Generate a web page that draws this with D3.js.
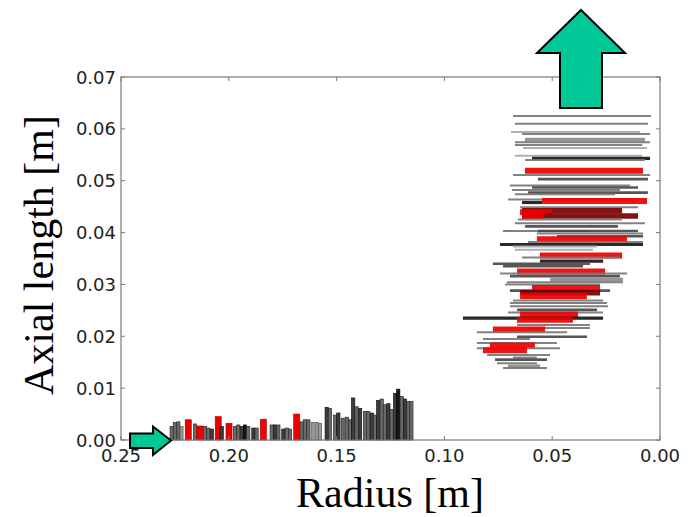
<!DOCTYPE html>
<html>
<head>
<meta charset="utf-8">
<script src="https://cdn.jsdelivr.net/npm/d3@7/dist/d3.min.js"></script>
<style>
  html, body { margin: 0; padding: 0; background: #fff; }
  svg { display: block; }
</style>
</head>
<body>
<svg id="chart" width="698" height="517"></svg>
<script>
// Axis ticks
const xTicks = [0.25, 0.20, 0.15, 0.10, 0.05, 0.00];
const yTicks = [0.00, 0.01, 0.02, 0.03, 0.04, 0.05, 0.06, 0.07];

// Radial bars near the outer radius: position [m], height [m], kind
const barRadius = [0.2265, 0.2250, 0.2234, 0.2219, 0.2188, 0.2157, 0.2134, 0.2110, 0.2095, 0.2079,
  0.2049, 0.2033, 0.1999, 0.1971, 0.1956, 0.1940, 0.1925, 0.1910, 0.1886, 0.1871,
  0.1840, 0.1801, 0.1786, 0.1770, 0.1747, 0.1731, 0.1716, 0.1685, 0.1662, 0.1647,
  0.1631, 0.1611, 0.1592, 0.1577, 0.1546, 0.1531, 0.1507, 0.1492, 0.1472, 0.1453,
  0.1438, 0.1423, 0.1407, 0.1391, 0.1368, 0.1353, 0.1337, 0.1322, 0.1307, 0.1291,
  0.1276, 0.1260, 0.1245, 0.1229, 0.1214, 0.1198, 0.1183, 0.1167, 0.1153];
const barHeight = [0.0026, 0.0034, 0.0035, 0.0026, 0.0039, 0.0031, 0.0027, 0.0026, 0.0023, 0.0021,
  0.0045, 0.0026, 0.0032, 0.0026, 0.0029, 0.0026, 0.0029, 0.0026, 0.0023, 0.0023,
  0.0040, 0.0029, 0.0029, 0.0029, 0.0021, 0.0023, 0.0021, 0.0050, 0.0035, 0.0039,
  0.0039, 0.0034, 0.0034, 0.0032, 0.0063, 0.0061, 0.0048, 0.0052, 0.0042, 0.0044,
  0.0039, 0.0081, 0.0064, 0.0061, 0.0055, 0.0055, 0.0052, 0.0048, 0.0076, 0.0079,
  0.0068, 0.0070, 0.0059, 0.0090, 0.0098, 0.0084, 0.0079, 0.0074, 0.0074];
const barKind = ["g", "g", "g", "lg", "r", "g", "r", "g", "g", "dg",
  "r", "dg", "r", "g", "g", "dg", "k", "g", "dg", "g",
  "r", "g", "dg", "g", "dg", "g", "g", "r", "g", "g",
  "g", "lg", "lg", "lg", "dg", "g", "g", "dg", "g", "g",
  "g", "dg", "g", "dg", "g", "g", "dg", "g", "dg", "g",
  "g", "dg", "g", "dg", "k", "g", "dg", "g", "g"];

// Axial segments near the inner radius: axial position [m], outer and inner radius [m], kind
const segLevel = [0.0625, 0.0610, 0.0594, 0.0590, 0.0579, 0.0574, 0.0569, 0.0563, 0.0548, 0.0543,
  0.0540, 0.0519, 0.0511, 0.0503, 0.0491, 0.0487, 0.0482, 0.0477, 0.0474, 0.0464,
  0.0461, 0.0458, 0.0449, 0.0442, 0.0439, 0.0432, 0.0432, 0.0425, 0.0418, 0.0412,
  0.0403, 0.0403, 0.0398, 0.0393, 0.0387, 0.0382, 0.0377, 0.0373, 0.0367, 0.0356,
  0.0352, 0.0345, 0.0340, 0.0335, 0.0325, 0.0321, 0.0316, 0.0309, 0.0304, 0.0300,
  0.0293, 0.0288, 0.0284, 0.0277, 0.0269, 0.0264, 0.0258, 0.0251, 0.0246, 0.0242,
  0.0235, 0.0232, 0.0222, 0.0216, 0.0213, 0.0208, 0.0199, 0.0195, 0.0187, 0.0182,
  0.0177, 0.0173, 0.0164, 0.0159, 0.0155, 0.0148, 0.0142, 0.0139];
const segOuter = [0.0682, 0.0673, 0.0691, 0.0640, 0.0626, 0.0673, 0.0673, 0.0635, 0.0673, 0.0594,
  0.0626, 0.0626, 0.0682, 0.0566, 0.0696, 0.0594, 0.0686, 0.0612, 0.0673, 0.0705,
  0.0547, 0.0640, 0.0649, 0.0640, 0.0649, 0.0640, 0.0640, 0.0659, 0.0673, 0.0626,
  0.0728, 0.0566, 0.0571, 0.0478, 0.0571, 0.0612, 0.0742, 0.0682, 0.0673, 0.0557,
  0.0640, 0.0557, 0.0775, 0.0728, 0.0663, 0.0742, 0.0696, 0.0510, 0.0710, 0.0719,
  0.0594, 0.0696, 0.0649, 0.0649, 0.0682, 0.0696, 0.0696, 0.0663, 0.0705, 0.0649,
  0.0914, 0.0663, 0.0663, 0.0617, 0.0775, 0.0849, 0.0663, 0.0821, 0.0849, 0.0789,
  0.0849, 0.0821, 0.0802, 0.0682, 0.0765, 0.0756, 0.0705, 0.0728];
const segInner = [0.0042, 0.0056, 0.0093, 0.0046, 0.0070, 0.0046, 0.0083, 0.0060, 0.0083, 0.0046,
  0.0070, 0.0079, 0.0046, 0.0056, 0.0139, 0.0102, 0.0186, 0.0056, 0.0209, 0.0102,
  0.0060, 0.0547, 0.0102, 0.0176, 0.0500, 0.0102, 0.0540, 0.0176, 0.0070, 0.0195,
  0.0325, 0.0102, 0.0079, 0.0079, 0.0153, 0.0079, 0.0079, 0.0292, 0.0311, 0.0176,
  0.0186, 0.0264, 0.0325, 0.0357, 0.0255, 0.0153, 0.0186, 0.0172, 0.0172, 0.0278,
  0.0278, 0.0232, 0.0278, 0.0339, 0.0264, 0.0246, 0.0241, 0.0292, 0.0264, 0.0380,
  0.0264, 0.0404, 0.0325, 0.0325, 0.0533, 0.0431, 0.0339, 0.0603, 0.0478, 0.0580,
  0.0464, 0.0617, 0.0510, 0.0571, 0.0524, 0.0571, 0.0557, 0.0524];
const segKind = ["g", "g", "lg", "g", "gt", "g", "g", "lg", "lg", "k",
  "g", "r", "g", "dg", "g", "dg", "g", "dg", "g", "g",
  "r", "k", "g", "dr", "r", "dr", "r", "g", "g", "dg",
  "g", "dg", "g", "dg", "r", "g", "k", "lg", "lg", "r",
  "g", "k", "dg", "dg", "r", "g", "dg", "gt", "g", "g",
  "r", "dg", "dr", "r", "g", "g", "g", "dg", "g", "r",
  "k", "r", "g", "g", "r", "g", "dg", "g", "g", "r",
  "g", "r", "g", "g", "dg", "g", "gt", "g"];

// Colour and stroke for each kind
const kindColor = { lg: "#a9a9a9", g: "#777777", gt: "#8c8c8c", dg: "#474747", k: "#161616", r: "#ee0000", dr: "#7a0000" };
const barFill = { lg: "#9a9a9a", g: "#6a6a6a", dg: "#3c3c3c", k: "#141414", r: "#ee0000" };
const barEdge = { lg: "#555", g: "#2a2a2a", dg: "#111", k: "#000", r: "#b00000" };
const segWidth = { lg: 2, g: 2, gt: 4, dg: 2.6, k: 3.2, r: 6, dr: 5.5 };
const barWidth = { lg: 3, g: 3.2, dg: 3.2, k: 3.2, r: 6 };

const svg = d3.select("#chart");
const margin = { left: 121, right: 38, top: 77, bottom: 77 };
const W = 698, H = 517;

const x = d3.scaleLinear().domain([0.25, 0]).range([margin.left, W - margin.right]);
const y = d3.scaleLinear().domain([0, 0.07]).range([H - margin.bottom, margin.top]);

// Slight softening of the dense marks
const defs = svg.append("defs");
defs.append("filter").attr("id", "soft")
  .append("feGaussianBlur").attr("stdDeviation", 0.45);

const plot = svg.append("g").attr("filter", "url(#soft)");

// Axial segments
plot.selectAll("line.seg")
  .data(segLevel.map((v, i) => ({ v, r0: segOuter[i], r1: segInner[i], k: segKind[i] })))
  .join("line")
  .attr("class", "seg")
  .attr("x1", d => x(d.r0))
  .attr("x2", d => x(d.r1))
  .attr("y1", d => y(d.v))
  .attr("y2", d => y(d.v))
  .attr("stroke", d => kindColor[d.k])
  .attr("stroke-width", d => segWidth[d.k])
  .attr("stroke-opacity", 0.92);

// Radial bars
plot.selectAll("rect.bar")
  .data(barRadius.map((r, i) => ({ r, h: barHeight[i], k: barKind[i] })))
  .join("rect")
  .attr("class", "bar")
  .attr("x", d => x(d.r) - barWidth[d.k] / 2)
  .attr("width", d => barWidth[d.k])
  .attr("y", d => y(d.h))
  .attr("height", d => y(0) - y(d.h))
  .attr("fill", d => barFill[d.k])
  .attr("stroke", d => barEdge[d.k])
  .attr("stroke-width", 0.7);

// Frame
const axisColor = "#7a7a7a";
svg.append("rect")
  .attr("x", x(0.25)).attr("y", y(0.07))
  .attr("width", x(0) - x(0.25)).attr("height", y(0) - y(0.07))
  .attr("fill", "none").attr("stroke", axisColor).attr("stroke-width", 1.2);

// Inward ticks on all four sides
const tl = 4;
const tg = svg.append("g").attr("stroke", axisColor).attr("stroke-width", 1);
xTicks.forEach(t => {
  tg.append("line").attr("x1", x(t)).attr("x2", x(t)).attr("y1", y(0)).attr("y2", y(0) - tl);
  tg.append("line").attr("x1", x(t)).attr("x2", x(t)).attr("y1", y(0.07)).attr("y2", y(0.07) + tl);
});
yTicks.forEach(t => {
  tg.append("line").attr("x1", x(0.25)).attr("x2", x(0.25) + tl).attr("y1", y(t)).attr("y2", y(t));
  tg.append("line").attr("x1", x(0)).attr("x2", x(0) - tl).attr("y1", y(t)).attr("y2", y(t));
});

// Tick labels
const fmt = d3.format(".2f");
const tickFont = "'DejaVu Sans', sans-serif";
svg.append("g").selectAll("text").data(xTicks).join("text")
  .attr("x", d => x(d)).attr("y", y(0) + 22)
  .attr("text-anchor", "middle")
  .attr("font-family", tickFont).attr("font-size", 18).attr("fill", "#222")
  .text(fmt);
svg.append("g").selectAll("text").data(yTicks).join("text")
  .attr("x", x(0.25) - 5).attr("y", d => y(d) + 6.5)
  .attr("text-anchor", "end")
  .attr("font-family", tickFont).attr("font-size", 18).attr("fill", "#222")
  .text(fmt);

// Axis titles
const titleFont = "'Liberation Serif', 'Times New Roman', serif";
svg.append("text")
  .attr("x", 390).attr("y", 507)
  .attr("text-anchor", "middle")
  .attr("font-family", titleFont).attr("font-size", 42).attr("fill", "#000")
  .text("Radius [m]");
svg.append("text")
  .attr("transform", "translate(53,255) rotate(-90)")
  .attr("text-anchor", "middle")
  .attr("font-family", titleFont).attr("font-size", 42).attr("fill", "#000")
  .text("Axial length [m]");

// Flow direction arrows
const arrowFill = "#00c896";
const line = d3.line();
svg.append("path")
  .attr("d", line([[581, 10], [625, 53], [602, 53], [602, 108], [560, 108], [560, 53], [537, 53]]) + "Z")
  .attr("fill", arrowFill).attr("stroke", "#000").attr("stroke-width", 2).attr("stroke-linejoin", "miter");
svg.append("path")
  .attr("d", line([[171, 440.5], [153, 426.5], [153, 433.5], [130, 433.5], [130, 448], [153, 448], [153, 455]]) + "Z")
  .attr("fill", arrowFill).attr("stroke", "#000").attr("stroke-width", 2).attr("stroke-linejoin", "miter");
</script>
</body>
</html>
